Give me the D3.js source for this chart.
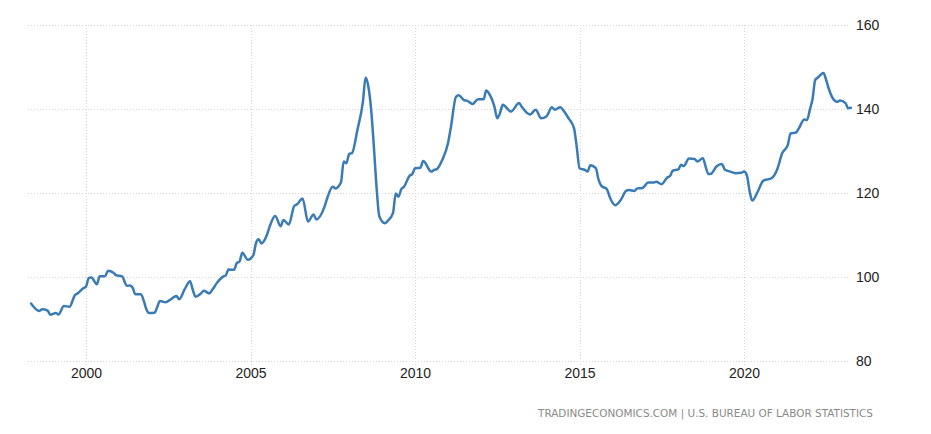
<!DOCTYPE html>
<html>
<head>
<meta charset="utf-8">
<script src="https://cdn.jsdelivr.net/npm/d3@7"></script>
<style>
  html, body { margin: 0; padding: 0; background: #fff; }
  svg { display: block; }
</style>
</head>
<body>
<svg id="chart" width="931" height="434"></svg>
<script>
// ---- data ----
const months = [
"1998-05","1998-08","1998-09","1998-11","1998-12","1999-02","1999-03","1999-05","1999-07","1999-09","1999-10","1999-12",
"2000-01","2000-02","2000-03","2000-05","2000-06","2000-08","2000-09","2000-11","2000-12",
"2001-02","2001-04","2001-05","2001-06","2001-07","2001-09","2001-10","2001-11","2001-12",
"2002-02","2002-03","2002-04","2002-06","2002-08","2002-10","2002-11",
"2003-01","2003-03","2003-04","2003-05","2003-07","2003-08","2003-10","2003-11",
"2004-01","2004-03","2004-04","2004-05","2004-07","2004-08","2004-09","2004-10","2004-12",
"2005-02","2005-03","2005-04","2005-05","2005-07","2005-08","2005-10","2005-12",
"2006-01","2006-03","2006-05","2006-06","2006-08","2006-10","2006-12",
"2007-01","2007-04","2007-05","2007-07","2007-08","2007-10","2007-11","2007-12",
"2008-01","2008-02","2008-04","2008-06","2008-07","2008-08","2008-09","2008-10","2008-11","2008-12",
"2009-02","2009-03","2009-05","2009-06","2009-07","2009-08","2009-09","2009-11","2009-12",
"2010-01","2010-03","2010-04","2010-07","2010-08","2010-09","2010-11",
"2011-01","2011-02","2011-04","2011-05","2011-07","2011-08","2011-10","2011-12",
"2012-02","2012-03","2012-04","2012-06","2012-07","2012-08","2012-09","2012-12",
"2013-03","2013-04","2013-06","2013-07","2013-09","2013-11",
"2014-01","2014-03","2014-04","2014-06","2014-07","2014-09","2014-11","2014-12",
"2015-01","2015-03","2015-04","2015-05","2015-07","2015-08","2015-09","2015-11","2015-12",
"2016-02","2016-04","2016-06","2016-07","2016-09","2016-10","2016-12",
"2017-02","2017-04","2017-05","2017-07","2017-09","2017-10","2017-11",
"2018-01","2018-02","2018-03","2018-05","2018-07","2018-08","2018-10","2018-11","2018-12",
"2019-01","2019-03","2019-05","2019-06","2019-08","2019-10","2019-12",
"2020-01","2020-02","2020-03","2020-04","2020-06","2020-08","2020-10","2020-11",
"2021-01","2021-03","2021-05","2021-06","2021-08","2021-09","2021-11","2021-12",
"2022-01","2022-02","2022-03","2022-04","2022-06","2022-07","2022-08","2022-09","2022-11","2022-12",
"2023-02","2023-03","2023-04"
];
const values = [
93.7,91.9,92.3,92.0,91.0,91.4,91.1,93.1,92.9,95.7,96.1,97.3,
97.7,99.8,99.9,98.3,100.2,100.2,101.5,101.0,100.4,
100.2,97.9,98.0,97.5,95.9,95.9,94.5,92.3,91.4,
91.5,92.8,94.3,94.0,94.7,95.5,94.7,
97.1,99.0,96.9,95.3,96.1,96.7,96.1,96.9,
98.8,100.1,100.4,101.8,101.7,103.3,103.7,105.8,104.1,
105.2,108.0,109.0,108.0,110.0,112.0,114.5,112.1,
113.6,112.5,116.9,117.3,118.7,113.2,114.9,
113.7,116.7,118.7,121.5,121.1,122.5,127.5,127.1,
129.3,129.5,135.0,141.7,147.5,145.3,139.8,131.0,121.0,114.4,
112.8,113.3,115.2,119.9,119.1,120.9,121.5,124.1,124.5,
125.9,126.0,127.6,125.1,125.5,125.7,128.0,
131.8,135.4,142.9,143.3,142.1,142.0,141.2,142.3,
142.3,144.4,143.7,140.5,137.8,139.0,141.0,139.4,
141.4,140.5,139.0,138.7,139.8,137.8,
138.3,140.4,139.8,140.4,139.8,137.8,135.4,131.0,
125.9,125.5,125.1,126.6,125.9,123.1,121.7,120.9,119.1,
117.1,118.3,120.5,120.7,120.5,121.1,121.2,
122.5,122.5,122.7,122.1,123.7,124.0,125.3,
125.6,126.7,126.4,128.2,128.1,127.5,128.3,126.3,124.5,
124.6,126.3,126.9,125.6,125.1,124.7,124.8,
125.1,124.3,120.7,118.2,120.3,122.9,123.3,123.5,
125.5,129.5,131.4,134.2,134.4,135.4,137.5,137.4,
139.8,142.5,146.9,147.5,148.6,146.9,144.7,143.0,141.7,142.0,
141.4,140.2,140.3
];
const yTicks = [80, 100, 120, 140, 160];
const xTickYears = [2000, 2005, 2010, 2015, 2020];
const sourceText = "TRADINGECONOMICS.COM  |  U.S. BUREAU OF LABOR STATISTICS";

// ---- layout ----
const svg = d3.select("#chart");
const parse = d3.timeParse("%Y-%m");
const data = months.map((m, i) => ({ date: parse(m), value: values[i] }));

const plotLeft = 28, plotRight = 850;
const x = d3.scaleTime()
  .domain([new Date(2000, 0, 1), new Date(2020, 0, 1)])
  .range([86, 744]);
const y = d3.scaleLinear().domain([80, 160]).range([361, 25]);

const gridColor = "#d6d6d6";

// horizontal grid
svg.append("g").selectAll("line").data(yTicks).join("line")
  .attr("x1", plotLeft).attr("x2", plotRight)
  .attr("y1", d => y(d) + 0.5).attr("y2", d => y(d) + 0.5)
  .attr("stroke", gridColor).attr("stroke-width", 1)
  .attr("stroke-dasharray", "1,2");

// vertical grid
svg.append("g").selectAll("line").data(xTickYears).join("line")
  .attr("x1", d => Math.round(x(new Date(d, 0, 1))) + 0.5)
  .attr("x2", d => Math.round(x(new Date(d, 0, 1))) + 0.5)
  .attr("y1", 25).attr("y2", 367)
  .attr("stroke", gridColor).attr("stroke-width", 1)
  .attr("stroke-dasharray", "1,2");

// y axis labels (right)
const yAxis = d3.axisRight(y).tickValues(yTicks).tickSize(0).tickPadding(0);
const gy = svg.append("g").attr("transform", `translate(856,0)`).call(yAxis);
gy.select(".domain").remove();
gy.selectAll("text")
  .attr("font-family", "Arial, 'Liberation Sans', sans-serif")
  .attr("font-size", 14).attr("fill", "#222");

// x axis labels
const xAxis = d3.axisBottom(x)
  .tickValues(xTickYears.map(d => new Date(d, 0, 1)))
  .tickFormat(d3.timeFormat("%Y")).tickSize(0).tickPadding(0);
const gx = svg.append("g").attr("transform", `translate(0,368)`).call(xAxis);
gx.select(".domain").remove();
gx.selectAll("text")
  .attr("font-family", "Arial, 'Liberation Sans', sans-serif")
  .attr("font-size", 14).attr("fill", "#222");

// line
const line = d3.line()
  .x(d => x(d.date)).y(d => y(d.value))
  .curve(d3.curveMonotoneX);
svg.append("path").datum(data)
  .attr("d", line)
  .attr("fill", "none")
  .attr("stroke", "#3a7bb6")
  .attr("stroke-width", 2.5)
  .attr("stroke-linejoin", "round")
  .attr("stroke-linecap", "round");

// source
svg.append("text")
  .attr("x", 538).attr("y", 417)
  .attr("textLength", 335).attr("lengthAdjust", "spacingAndGlyphs")
  .attr("font-family", "'DejaVu Sans', Verdana, sans-serif")
  .attr("font-size", 10).attr("fill", "#8a8a8a")
  .text(sourceText);
</script>
</body>
</html>
